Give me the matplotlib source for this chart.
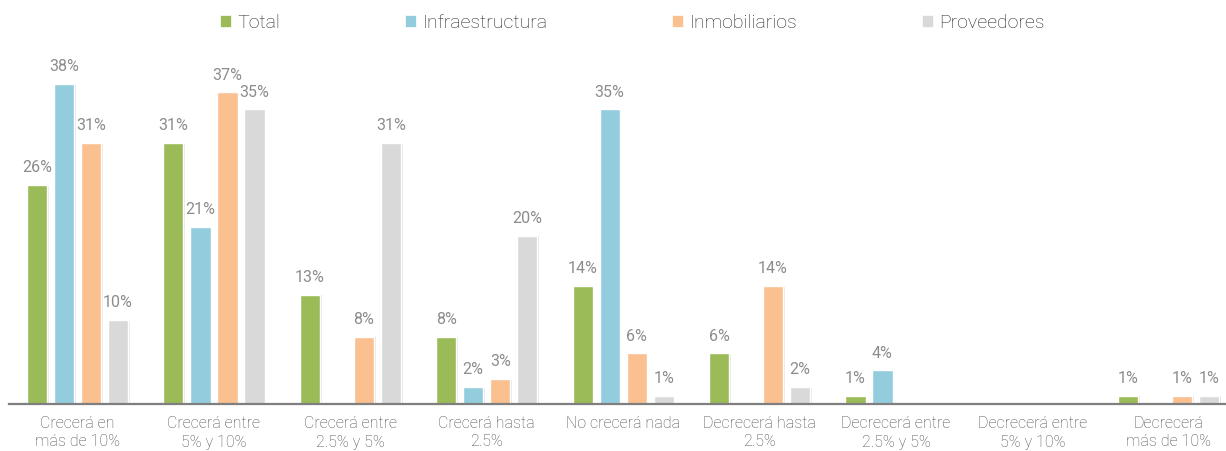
import matplotlib

matplotlib.use("Agg")

import matplotlib.pyplot as plt
import matplotlib.patheffects as pe
from matplotlib.patches import Patch
import numpy as np

categories = [
    "Crecerá en\nmás de 10%",
    "Crecerá entre\n5% y 10%",
    "Crecerá entre\n2.5% y 5%",
    "Crecerá hasta\n2.5%",
    "No crecerá nada",
    "Decrecerá hasta\n2.5%",
    "Decrecerá entre\n2.5% y 5%",
    "Decrecerá entre\n5% y 10%",
    "Decrecerá\nmás de 10%",
]
series_names = ["Total", "Infraestructura", "Inmobiliarios", "Proveedores"]
total = [26, 31, 13, 8, 14, 6, 1, None, 1]
infraestructura = [38, 21, None, 2, 35, None, 4, None, None]
inmobiliarios = [31, 37, 8, 3, 6, 14, None, None, 1]
proveedores = [10, 35, 31, 20, 1, 2, None, None, 1]
colors = ["#9bbb59", "#93cddd", "#fac090", "#d9d9d9"]

plt.rcParams["font.family"] = ["Roboto", "DejaVu Sans"]

fig = plt.figure(figsize=(12.26, 4.51), dpi=100)
# axes spans slightly past the right edge so the baseline runs off the figure
ax = fig.add_axes([9.3 / 1226, 47 / 451, 1227.7 / 1226, 40 * 8.42 / 451])
ax.set_facecolor("white")

x = np.arange(len(categories))
width = 0.148
step = 0.198
shadow = [pe.SimplePatchShadow(offset=(1.2, -0.6), shadow_rgbFace="#b0b0b0", alpha=0.3), pe.Normal()]

for i, (name, vals, col) in enumerate(zip(series_names, [total, infraestructura, inmobiliarios, proveedores], colors)):
    offs = (i - 1.5) * step
    xs = [xx + offs for xx, v in zip(x, vals) if v is not None]
    ys = [v for v in vals if v is not None]
    bars = ax.bar(xs, ys, width=width, color=col, edgecolor="white", linewidth=1.0, zorder=3)
    for b in bars:
        b.set_path_effects(shadow)
    for xx, v in zip(xs, ys):
        ax.annotate(f"{v}%", (xx, v), xytext=(0, 7), textcoords="offset points",
                    ha="center", va="bottom", fontsize=11.5, color="#8c8c8c",
                    annotation_clip=False)

ax.set_xlim(-0.5, 8.5)
ax.set_ylim(0, 40)
ax.set_xticks(x)
ax.set_xticklabels(categories, fontsize=11.5, color="#4d4d4d", fontweight="light", linespacing=1.25)
ax.tick_params(axis="x", length=0, pad=9)
ax.set_yticks([])
for side in ("top", "right", "left"):
    ax.spines[side].set_visible(False)
ax.spines["bottom"].set_color("#7f7f7f")
ax.spines["bottom"].set_linewidth(1.6)
ax.spines["bottom"].set_zorder(4)

handles = [Patch(facecolor=c, edgecolor="white", linewidth=0.5) for c in colors]
fig.legend(handles, series_names, loc="center", bbox_to_anchor=(0.516, 0.95), ncol=4, frameon=False,
           handlelength=0.55, handleheight=0.55, handletextpad=0.35,
           columnspacing=6.4, labelcolor="#262626",
           prop={"weight": "light", "size": 14})

fig.savefig("out.png", dpi=100, facecolor="white")
